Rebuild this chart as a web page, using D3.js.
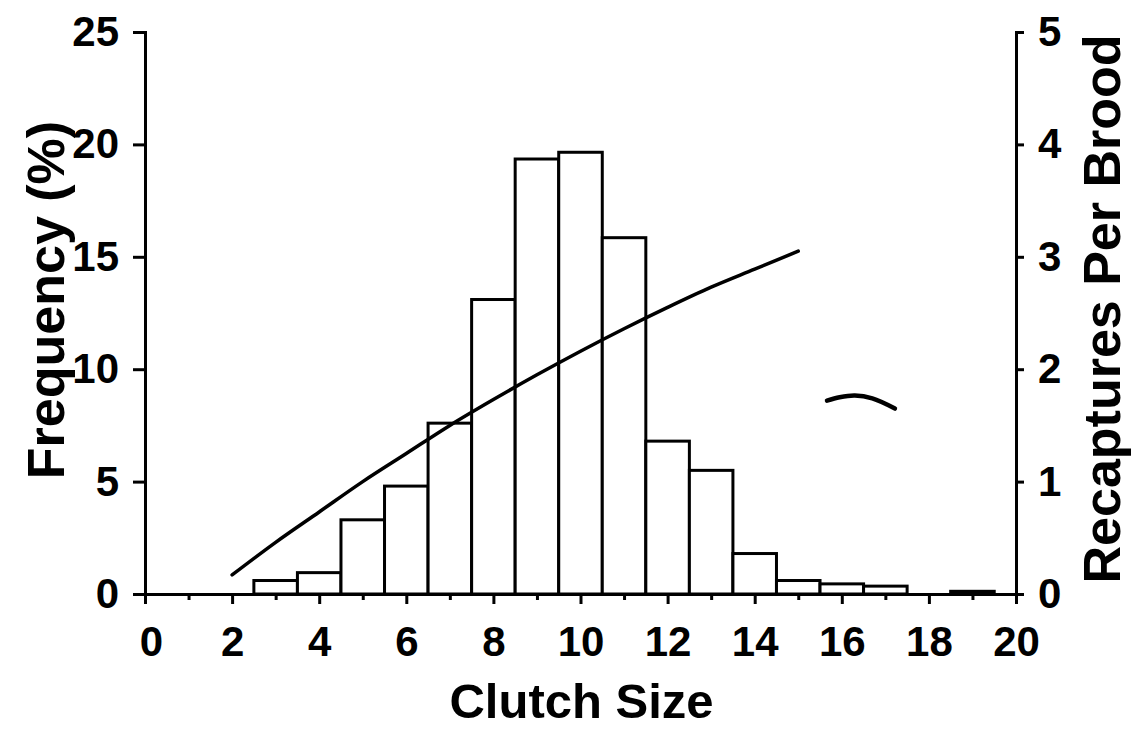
<!DOCTYPE html>
<html>
<head>
<meta charset="utf-8">
<script src="https://cdn.jsdelivr.net/npm/d3@7"></script>
<style>
  html, body { margin: 0; padding: 0; background: #fff; }
  svg { display: block; }
  text { font-family: "Liberation Sans", Arial, Helvetica, sans-serif; font-weight: bold; fill: #000; }
</style>
</head>
<body>
<svg id="chart" width="1134" height="730"></svg>
<script>
// Clutch size distribution (bars, left axis) and fitted recaptures per brood (line, right axis)
const clutchSizes = [3, 4, 5, 6, 7, 8, 9, 10, 11, 12, 13, 14, 15, 16, 17, 19];
const frequencyPct = [0.6, 0.95, 3.3, 4.8, 7.6, 13.1, 19.35, 19.65, 15.85, 6.8, 5.5, 1.8, 0.6, 0.45, 0.35, 0.12];

const curveClutch = [2, 3, 4, 5, 6, 7, 8, 9, 10, 11, 12, 13, 14, 15];
const recapturesPerBrood = [0.17, 0.46, 0.73, 1.0, 1.25, 1.5, 1.73, 1.95, 2.16, 2.36, 2.55, 2.73, 2.89, 3.05];

// small hand-drawn tilde mark on the plot, in data units (clutch size, recaptures)
const markClutch = [15.66, 15.95, 16.3, 16.7, 17.22];
const markRecaptures = [1.72, 1.75, 1.765, 1.74, 1.65];

const xTicks = [0, 2, 4, 6, 8, 10, 12, 14, 16, 18, 20];
const xMinorTicks = [1, 3, 5, 7, 9, 11, 13, 15, 17, 19];
const leftTicks = [0, 5, 10, 15, 20, 25];
const rightTicks = [0, 1, 2, 3, 4, 5];

const svg = d3.select("#chart");
const plotLeft = 145, plotRight = 1016, plotTop = 32, plotBottom = 594;

const x = d3.scaleLinear().domain([0, 20]).range([plotLeft, plotRight]);
const yL = d3.scaleLinear().domain([0, 25]).range([plotBottom, plotTop]);
const yR = d3.scaleLinear().domain([0, 5]).range([plotBottom, plotTop]);

const bars = clutchSizes.map((c, i) => ({ c, v: frequencyPct[i] }));

// bars
svg.append("g").selectAll("rect").data(bars).join("rect")
  .attr("x", d => x(d.c - 0.5))
  .attr("width", d => x(d.c + 0.5) - x(d.c - 0.5))
  .attr("y", d => yL(d.v))
  .attr("height", d => yL(0) - yL(d.v))
  .attr("fill", "#fff")
  .attr("stroke", "#000")
  .attr("stroke-width", 3);

// fitted recapture curve
const curvePts = curveClutch.map((c, i) => [c, recapturesPerBrood[i]]);
svg.append("path")
  .datum(curvePts)
  .attr("fill", "none")
  .attr("stroke", "#000")
  .attr("stroke-width", 3.5)
  .attr("stroke-linecap", "round")
  .attr("d", d3.line().x(d => x(d[0])).y(d => yR(d[1])).curve(d3.curveMonotoneX));

// tilde mark
const markPts = markClutch.map((c, i) => [c, markRecaptures[i]]);
svg.append("path")
  .datum(markPts)
  .attr("fill", "none")
  .attr("stroke", "#000")
  .attr("stroke-width", 4.5)
  .attr("stroke-linecap", "round")
  .attr("d", d3.line().x(d => x(d[0])).y(d => yR(d[1])).curve(d3.curveCatmullRom));

// x axis
const xAxis = svg.append("g").attr("transform", `translate(0,${plotBottom})`)
  .call(d3.axisBottom(x).tickValues(xTicks).tickSize(10).tickPadding(22).tickFormat(d3.format("d")));
svg.append("g").attr("transform", `translate(0,${plotBottom})`)
  .call(d3.axisBottom(x).tickValues(xMinorTicks).tickSize(6).tickFormat(""))
  .select(".domain").remove();

// left axis
const yAxisL = svg.append("g").attr("transform", `translate(${plotLeft},0)`)
  .call(d3.axisLeft(yL).tickValues(leftTicks).tickSize(12).tickPadding(14).tickFormat(d3.format("d")));

// right axis
const yAxisR = svg.append("g").attr("transform", `translate(${plotRight},0)`)
  .call(d3.axisRight(yR).tickValues(rightTicks).tickSize(8).tickPadding(14).tickFormat(d3.format("d")));

svg.selectAll(".domain").attr("stroke", "#000").attr("stroke-width", 3);
svg.selectAll(".tick line").attr("stroke", "#000").attr("stroke-width", 3);
svg.selectAll(".tick text")
  .attr("font-family", "'Liberation Sans', Arial, sans-serif")
  .attr("font-weight", "bold")
  .attr("font-size", 42)
  .attr("fill", "#000");
xAxis.selectAll(".tick text").attr("dy", "0.71em");
// the origin label sits a little right of its tick
xAxis.selectAll(".tick text").filter(d => d === 0).attr("dx", 6);

// axis titles
svg.append("text")
  .attr("x", (plotLeft + plotRight) / 2 + 1)
  .attr("y", 718)
  .attr("text-anchor", "middle")
  .attr("font-size", 49)
  .text("Clutch Size");

svg.append("text")
  .attr("transform", `translate(64,${(120 + 480) / 2}) rotate(-90)`)
  .attr("text-anchor", "middle")
  .attr("font-size", 52)
  .text("Frequency (%)");

svg.append("text")
  .attr("transform", `translate(1120,${(28 + 590) / 2}) rotate(-90)`)
  .attr("text-anchor", "middle")
  .attr("font-size", 52)
  .text("Recaptures Per Brood");
</script>
</body>
</html>
